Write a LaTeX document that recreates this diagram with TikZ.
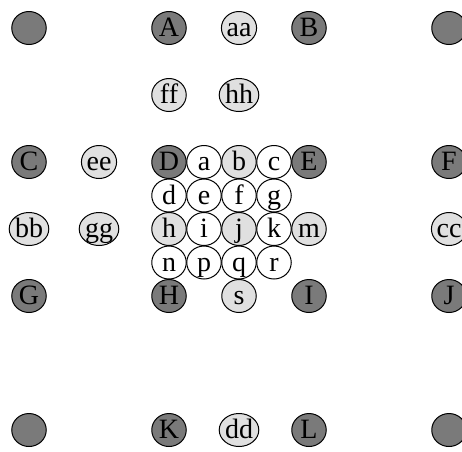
\documentclass[tikz,border=0pt]{standalone}
\usepackage{fontspec}
\setmainfont{Liberation Serif}
\usepackage{tikz}
\usetikzlibrary{shapes.geometric}

\begin{document}
\begin{tikzpicture}[
    x=35pt, y=-33.5pt,
    cell/.style={ellipse, draw=black, line width=1pt, inner sep=0pt, minimum width=34.5pt, minimum height=33pt, text height=17pt, text depth=0pt, font=\fontsize{28}{28}\selectfont},
    dk/.style={cell, fill=black!52},
    lt/.style={cell, fill=black!12},
    wh/.style={cell, fill=white}
]
\useasboundingbox (0,0) rectangle (462pt,-451pt);
\begin{scope}[shift={(29pt,-28pt)}]
% top row
\node[dk] (tl) at (0,0) {};
\node[dk] (A) at (4,0) {A};
\node[lt] (aa) at (6,0) {aa};
\node[dk] (B) at (8,0) {B};
\node[dk] (tr) at (12,0) {};

\node[lt] (ff) at (4,2) {ff};
\node[lt] (hh) at (6,2) {hh};

% middle block
\node[dk] (C) at (0,4) {C};
\node[lt] (ee) at (2,4) {ee};
\node[dk] (D) at (4,4) {D};
\node[wh] (a) at (5,4) {a};
\node[lt] (b) at (6,4) {b};
\node[wh] (c) at (7,4) {c};
\node[dk] (E) at (8,4) {E};
\node[dk] (F) at (12,4) {F};

\node[wh] (d) at (4,5) {d};
\node[wh] (e) at (5,5) {e};
\node[wh] (f) at (6,5) {f};
\node[wh] (g) at (7,5) {g};

\node[lt] (bb) at (0,6) {bb};
\node[lt] (gg) at (2,6) {gg};
\node[lt] (h) at (4,6) {h};
\node[wh] (i) at (5,6) {i};
\node[lt] (j) at (6,6) {j};
\node[wh] (k) at (7,6) {k};
\node[lt] (m) at (8,6) {m};
\node[lt] (cc) at (12,6) {cc};

\node[wh] (n) at (4,7) {n};
\node[wh] (p) at (5,7) {p};
\node[wh] (q) at (6,7) {q};
\node[wh] (r) at (7,7) {r};

\node[dk] (G) at (0,8) {G};
\node[dk] (H) at (4,8) {H};
\node[lt] (s) at (6,8) {s};
\node[dk] (I) at (8,8) {I};
\node[dk] (J) at (12,8) {J};

% bottom row
\node[dk] (bl) at (0,12) {};
\node[dk] (K) at (4,12) {K};
\node[lt] (dd) at (6,12) {dd};
\node[dk] (L) at (8,12) {L};
\node[dk] (br) at (12,12) {};
\end{scope}
\end{tikzpicture}
\end{document}
